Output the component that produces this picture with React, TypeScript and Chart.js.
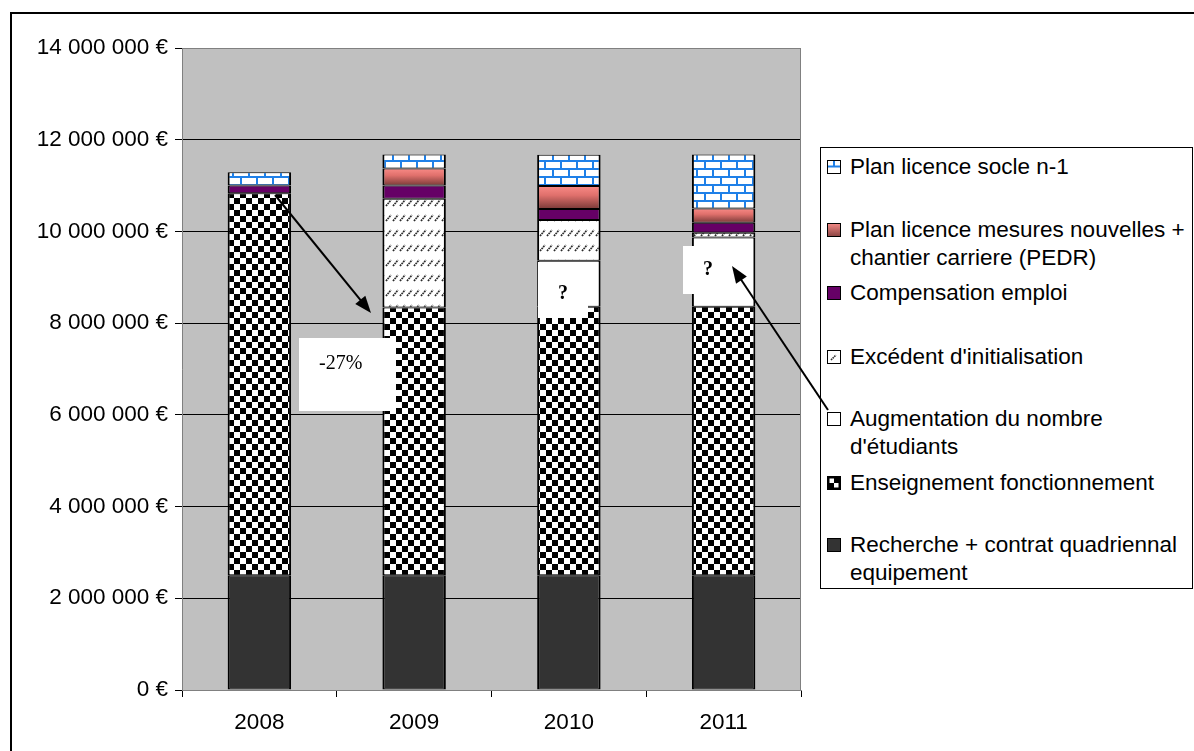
import React, { useEffect, useRef } from 'react';
import { Chart, registerables } from 'chart.js';

Chart.register(...registerables);

// ---------- data ----------
const years = ['2008', '2009', '2010', '2011'];
const recherche = [2500000, 2500000, 2500000, 2500000];
const enseignement = [8330000, 5840000, 5860000, 5860000];
const augmentation = [null, null, 1000000, 1510000];
const excedent = [null, 2370000, 890000, 100000];
const compensation = [170000, 290000, 240000, 220000];
const mesures = [null, 370000, 500000, 310000];
const socle = [290000, 310000, 680000, 1180000];
const yMin = 0;
const yMax = 14000000;
const yStep = 2000000;

const seriesNames = [
  'Recherche + contrat quadriennal equipement',
  'Enseignement fonctionnement',
  "Augmentation du nombre d'étudiants",
  "Excédent d'initialisation",
  'Compensation emploi',
  'Plan licence mesures nouvelles + chantier carriere (PEDR)',
  'Plan licence socle n-1',
];

// legend entries, top to bottom, with line breaks as in the original
const legendEntries: { key: string; lines: string[] }[] = [
  { key: 'socle', lines: ['Plan licence socle n-1'] },
  { key: 'mesures', lines: ['Plan licence mesures nouvelles +', 'chantier carriere (PEDR)'] },
  { key: 'compensation', lines: ['Compensation emploi'] },
  { key: 'excedent', lines: ["Excédent d'initialisation"] },
  { key: 'augmentation', lines: ['Augmentation du nombre', "d'étudiants"] },
  { key: 'enseignement', lines: ['Enseignement fonctionnement'] },
  { key: 'recherche', lines: ['Recherche + contrat quadriennal', 'equipement'] },
];

const formatEuro = (v: number) =>
  String(Math.round(v)).replace(/\B(?=(\d{3})+(?!\d))/g, ' ') + ' €';

const SANS = "'Liberation Sans', Arial, Helvetica, sans-serif";
const SERIF = "'Liberation Serif', 'Times New Roman', serif";
const FONT_SIZE = 22.5;

// ---------- patterns ----------
function tile(w: number, h: number, draw: (g: CanvasRenderingContext2D) => void) {
  const c = document.createElement('canvas');
  c.width = w;
  c.height = h;
  const g = c.getContext('2d')!;
  draw(g);
  return c;
}

function makePatterns(ctx: CanvasRenderingContext2D) {
  const checker = tile(12, 12, (g) => {
    g.fillStyle = '#ffffff';
    g.fillRect(0, 0, 12, 12);
    g.fillStyle = '#000000';
    g.fillRect(0, 0, 6, 6);
    g.fillRect(6, 6, 6, 6);
  });
  const brick = tile(16, 16, (g) => {
    g.fillStyle = '#ffffff';
    g.fillRect(0, 0, 16, 16);
    g.fillStyle = '#1f80e8';
    g.fillRect(0, 0, 16, 2);
    g.fillRect(0, 8, 16, 2);
    g.fillRect(0, 0, 2, 8);
    g.fillRect(8, 8, 2, 8);
  });
  const hatch = tile(7, 15, (g) => {
    g.fillStyle = '#ffffff';
    g.fillRect(0, 0, 7, 15);
    g.strokeStyle = '#2a2a2a';
    g.lineWidth = 1.7;
    g.setLineDash([1.8, 0.7]);
    g.beginPath();
    g.moveTo(1, 11);
    g.lineTo(6, 5);
    g.stroke();
  });
  return {
    checker: ctx.createPattern(checker, 'repeat')!,
    brick: ctx.createPattern(brick, 'repeat')!,
    hatch: ctx.createPattern(hatch, 'repeat')!,
  };
}

// ---------- plugins ----------
const plotFrame = {
  id: 'plotFrame',
  beforeDraw(chart: any) {
    const { ctx, chartArea } = chart;
    if (!chartArea) return;
    ctx.save();
    ctx.fillStyle = '#c0c0c0';
    ctx.fillRect(chartArea.left, chartArea.top, chartArea.right - chartArea.left, chartArea.bottom - chartArea.top);
    ctx.restore();
  },
  afterDatasetsDraw(chart: any) {
    const { ctx, chartArea } = chart;
    ctx.save();
    ctx.strokeStyle = '#808080';
    ctx.lineWidth = 1;
    ctx.beginPath();
    ctx.moveTo(Math.round(chartArea.left) + 0.5, Math.round(chartArea.top) + 0.5);
    ctx.lineTo(Math.round(chartArea.right) - 0.5, Math.round(chartArea.top) + 0.5);
    ctx.lineTo(Math.round(chartArea.right) - 0.5, Math.round(chartArea.bottom) + 0.5);
    ctx.stroke();
    ctx.restore();
  },
};

function Swatch({ kind }: { kind: string }) {
  const common = { stroke: '#000', strokeWidth: 1 };
  return (
    <svg width={15} height={15} style={{ position: 'absolute', left: 0, top: 0, overflow: 'visible' }}>
      <defs>
        <linearGradient id="swMes" x1="0" y1="0" x2="0" y2="1">
          <stop offset="0" stopColor="#f48a86" />
          <stop offset="1" stopColor="#8a4442" />
        </linearGradient>
      </defs>
      {kind === 'socle' && (
        <g>
          <rect x={0.5} y={0.5} width={13} height={13} fill="#fff" {...common} />
          <line x1={1} y1={6.5} x2={13} y2={6.5} stroke="#1f80e8" strokeWidth={2} />
          <line x1={7} y1={1} x2={7} y2={6} stroke="#1f80e8" strokeWidth={2} />
        </g>
      )}
      {kind === 'mesures' && <rect x={0.5} y={0.5} width={13} height={13} fill="url(#swMes)" {...common} />}
      {kind === 'compensation' && <rect x={0.5} y={0.5} width={13} height={13} fill="#660066" {...common} />}
      {kind === 'excedent' && (
        <g>
          <rect x={0.5} y={0.5} width={13} height={13} fill="#fff" {...common} />
          <line x1={4} y1={10} x2={9} y2={5} stroke="#333" strokeWidth={1.6} strokeDasharray="1.6 0.7" />
        </g>
      )}
      {kind === 'augmentation' && <rect x={0.5} y={0.5} width={13} height={13} fill="#fff" {...common} />}
      {kind === 'enseignement' && (
        <g>
          <rect x={0.5} y={0.5} width={13} height={13} fill="#000" {...common} />
          <rect x={2.5} y={2.5} width={4.5} height={4.5} fill="#fff" />
          <rect x={7} y={7} width={4.5} height={4.5} fill="#fff" />
        </g>
      )}
      {kind === 'recherche' && <rect x={0.5} y={0.5} width={13} height={13} fill="#333333" {...common} />}
    </svg>
  );
}

function arrowHead(x1: number, y1: number, x2: number, y2: number, len = 17, half = 6.5) {
  const dx = x2 - x1;
  const dy = y2 - y1;
  const d = Math.hypot(dx, dy);
  const ux = dx / d;
  const uy = dy / d;
  const bx = x2 - ux * len;
  const by = y2 - uy * len;
  const px = -uy * half;
  const py = ux * half;
  return `${x2},${y2} ${bx + px},${by + py} ${bx - px},${by - py}`;
}

const arrows = [
  { x1: 275, y1: 195, x2: 371, y2: 313 },
  { x1: 828, y1: 410, x2: 732, y2: 266 },
];

export default function App() {
  const canvasRef = useRef<HTMLCanvasElement | null>(null);

  useEffect(() => {
    const canvas = canvasRef.current!;
    const ctx = canvas.getContext('2d')!;
    const p = makePatterns(ctx);

    const mesuresGradient = (c: any) => {
      const chart = c.chart;
      const y = chart.scales?.y;
      if (!chart.chartArea || !y || c.type !== 'data') return '#d06a66';
      const i = c.dataIndex;
      let base = 0;
      for (let d = 0; d < c.datasetIndex; d++) base += (chart.data.datasets[d].data[i] as number) || 0;
      const v = (chart.data.datasets[c.datasetIndex].data[i] as number) || 0;
      const top = y.getPixelForValue(base + v);
      const bot = y.getPixelForValue(base);
      const g = chart.ctx.createLinearGradient(0, top, 0, bot);
      g.addColorStop(0, '#f88a86');
      g.addColorStop(0.4, '#e0706c');
      g.addColorStop(1, '#7a3a38');
      return g;
    };

    const base = {
      borderColor: '#000000',
      borderWidth: { left: 2, right: 2, top: 1, bottom: 1 },
      borderSkipped: false as const,
    };
    const chart = new Chart(canvas, {
      type: 'bar',
      data: {
        labels: years,
        datasets: [
          { label: seriesNames[0], data: recherche, backgroundColor: '#333333', ...base },
          { label: seriesNames[1], data: enseignement, backgroundColor: p.checker, ...base },
          { label: seriesNames[2], data: augmentation as any, backgroundColor: '#ffffff', ...base },
          { label: seriesNames[3], data: excedent as any, backgroundColor: p.hatch, ...base },
          { label: seriesNames[4], data: compensation, backgroundColor: '#660066', ...base },
          { label: seriesNames[5], data: mesures as any, backgroundColor: mesuresGradient, ...base },
          { label: seriesNames[6], data: socle, backgroundColor: p.brick, ...base },
        ],
      },
      options: {
        responsive: false,
        animation: false,
        devicePixelRatio: 1,
        layout: { padding: { left: 0, right: 393, top: 48, bottom: 0 } },
        datasets: { bar: { barPercentage: 0.41, categoryPercentage: 1 } },
        plugins: { legend: { display: false }, tooltip: { enabled: false }, title: { display: false } },
        scales: {
          x: {
            stacked: true,
            offset: true,
            grid: { display: true, drawOnChartArea: false, drawTicks: true, tickLength: 7, tickColor: '#000', offset: true },
            border: { display: true, color: '#808080', width: 1 },
            ticks: { color: '#000', font: { family: SANS, size: FONT_SIZE }, padding: 12, maxRotation: 0 },
            afterFit: (s: any) => {
              s.height = 61;
            },
          },
          y: {
            stacked: true,
            min: yMin,
            max: yMax,
            grid: {
              color: (c: any) => (c.tick && (c.tick.value === yMax || c.tick.value === yMin) ? '#808080' : '#000000'),
              lineWidth: 1,
              drawTicks: true,
              tickLength: 7,
              tickColor: '#000',
            },
            border: { display: true, color: '#808080', width: 1 },
            ticks: {
              stepSize: yStep,
              color: '#000',
              font: { family: SANS, size: FONT_SIZE },
              padding: 7,
              callback: (v: any) => formatEuro(Number(v)),
            },
            afterFit: (s: any) => {
              s.width = 182;
            },
          },
        },
      },
      plugins: [plotFrame],
    });
    return () => chart.destroy();
  }, []);

  const lineH = 27.7;
  const entryTops = [153, 216, 279, 343, 405, 469, 531];

  return (
    <div style={{ position: 'fixed', left: 0, top: 0, width: 1194, height: 751, background: '#fff', overflow: 'hidden' }}>
      <canvas ref={canvasRef} width={1194} height={751} style={{ position: 'absolute', left: 0, top: 0, width: 1194, height: 751 }} />
      {/* outer frame */}
      <div style={{ position: 'absolute', left: 10, top: 12, width: 1300, height: 900, borderLeft: '2px solid #000', borderTop: '2px solid #000', pointerEvents: 'none' }} />
      {/* legend */}
      <div style={{ position: 'absolute', left: 820, top: 147, width: 371, height: 440, border: '1px solid #000', background: '#fff' }} />
      {legendEntries.map((e, i) => (
        <div key={e.key} style={{ position: 'absolute', left: 827, top: entryTops[i], width: 366 }}>
          <div style={{ position: 'absolute', left: 0, top: lineH / 2 - 7, width: 15, height: 15 }}>
            <Swatch kind={e.key} />
          </div>
          <div style={{ position: 'absolute', left: 23, top: 0, fontFamily: SANS, fontSize: FONT_SIZE, lineHeight: `${lineH}px`, color: '#000', whiteSpace: 'nowrap' }}>
            {e.lines.map((l, j) => (
              <div key={j}>{l}</div>
            ))}
          </div>
        </div>
      ))}
      {/* annotation boxes */}
      <div style={{ position: 'absolute', left: 299, top: 338, width: 97, height: 73, background: '#fff', fontFamily: SERIF, fontSize: 20, lineHeight: '20px', color: '#000' }}>
        <div style={{ position: 'absolute', left: 20, top: 14 }}>-27%</div>
      </div>
      <div style={{ position: 'absolute', left: 538, top: 262, width: 50, height: 56, background: '#fff', fontFamily: SERIF, fontSize: 20, fontWeight: 'bold', lineHeight: '20px', color: '#000' }}>
        <div style={{ position: 'absolute', left: 0, width: 50, textAlign: 'center', top: 20 }}>?</div>
      </div>
      <div style={{ position: 'absolute', left: 683, top: 246, width: 52, height: 48, background: '#fff', fontFamily: SERIF, fontSize: 20, fontWeight: 'bold', lineHeight: '20px', color: '#000' }}>
        <div style={{ position: 'absolute', left: 0, width: 50, textAlign: 'center', top: 12 }}>?</div>
      </div>
      {/* arrows */}
      <svg width={1194} height={751} style={{ position: 'absolute', left: 0, top: 0, pointerEvents: 'none' }}>
        {arrows.map((a, i) => {
          const d = Math.hypot(a.x2 - a.x1, a.y2 - a.y1);
          const ex = a.x2 - ((a.x2 - a.x1) / d) * 12;
          const ey = a.y2 - ((a.y2 - a.y1) / d) * 12;
          return (
            <g key={i}>
              <line x1={a.x1} y1={a.y1} x2={ex} y2={ey} stroke="#000" strokeWidth={2} />
              <polygon points={arrowHead(a.x1, a.y1, a.x2, a.y2)} fill="#000" />
            </g>
          );
        })}
      </svg>
    </div>
  );
}
